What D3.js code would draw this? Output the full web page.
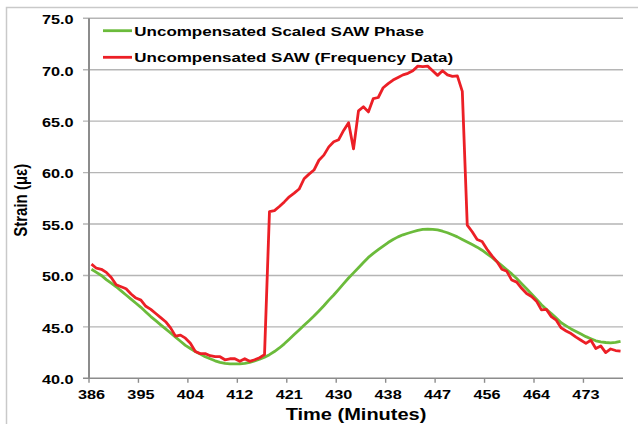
<!DOCTYPE html>
<html><head><meta charset="utf-8">
<script src="https://cdn.jsdelivr.net/npm/d3@7"></script>
<style>
html,body{margin:0;padding:0;background:#fff;}
svg{display:block;}
text{font-family:"Liberation Sans",Arial,sans-serif;font-weight:bold;fill:#000;}
</style></head><body>
<svg id="chart" width="638" height="424"></svg>
<script>
// ---- data ----
const timeLabels = ["386","395","404","412","421","430","438","447","456","464","473"];
const yTicks = [40,45,50,55,60,65,70,75];
const seriesNames = ["Uncompensated Scaled SAW Phase","Uncompensated SAW (Frequency Data)"];
const scaledPhase = [
50.6,50.3,50.0,49.6,49.25,48.9,48.5,48.1,47.7,47.3,
46.9,46.45,46.0,45.6,45.2,44.8,44.4,44.0,43.6,43.2,
42.9,42.6,42.35,42.1,41.9,41.7,41.55,41.45,41.4,41.4,
41.4,41.45,41.55,41.7,41.85,42.05,42.3,42.6,42.95,43.35,
43.8,44.25,44.7,45.15,45.6,46.05,46.55,47.05,47.6,48.1,
48.65,49.2,49.75,50.25,50.75,51.25,51.75,52.15,52.5,52.85,
53.2,53.5,53.75,53.95,54.1,54.25,54.38,54.47,54.5,54.48,
54.42,54.3,54.15,53.95,53.75,53.5,53.25,53.0,52.75,52.45,
52.1,51.75,51.35,50.95,50.55,50.15,49.7,49.2,48.7,48.2,
47.7,47.15,46.7,46.3,45.85,45.4,45.1,44.8,44.55,44.3,
44.05,43.85,43.65,43.55,43.48,43.45,43.5,43.6];
const sawFrequency = [
51.1,50.7,50.6,50.3,49.8,49.1,48.9,48.7,48.2,47.8,
47.6,47.0,46.7,46.3,45.9,45.5,44.9,44.1,44.2,43.9,
43.4,42.6,42.4,42.4,42.2,42.1,42.1,41.8,41.9,41.9,
41.65,41.9,41.65,41.8,42.0,42.3,56.2,56.3,56.7,57.15,
57.65,58.0,58.4,59.4,59.85,60.25,61.2,61.7,62.5,63.0,
63.2,64.1,64.85,62.3,66.0,66.4,65.9,67.2,67.3,68.25,
68.65,69.0,69.25,69.5,69.65,69.9,70.35,70.3,70.35,69.9,
69.45,69.9,69.5,69.35,69.4,67.9,54.9,54.25,53.5,53.3,
52.55,51.9,51.35,50.6,50.4,49.55,49.35,48.75,48.25,47.95,
47.5,46.65,46.7,46.0,45.65,44.9,44.6,44.35,44.0,43.7,
43.4,43.7,42.9,43.15,42.5,42.85,42.7,42.65];

// ---- layout ----
const SX = 1.25; // horizontal stretch of the reference text
const n = sawFrequency.length;
const plot = {left:89, right:623, top:18.3, bottom:378.3};
const x = d3.scaleLinear().domain([0, n]).range([plot.left, plot.right]);
const y = d3.scaleLinear().domain([40, 75]).range([plot.bottom, plot.top]);
const cx = i => x(i + 0.5);

const svg = d3.select("#chart");

// outer border (left and top visible)
svg.append("rect").attr("x",6.5).attr("y",7.5).attr("width",700).attr("height",500)
  .attr("fill","none").attr("stroke","#c9c9c9").attr("stroke-width",1.5);

// gridlines
svg.append("g").selectAll("line").data(yTicks.filter(v => v > 40)).join("line")
  .attr("x1", plot.left - 6).attr("x2", plot.right)
  .attr("y1", d => y(d)).attr("y2", d => y(d))
  .attr("stroke","#b5b5b5").attr("stroke-width",1.4);

// y tick labels
svg.append("g").selectAll("text").data(yTicks).join("text")
  .attr("text-anchor","end").attr("font-size",13)
  .attr("transform", d => `translate(73.5,${y(d) + 5.8}) scale(${SX},1)`)
  .text(d => d3.format(".1f")(d));

// x axis line + ticks
const tickIdx = timeLabels.map((_, k) => k * 10);
svg.append("line").attr("x1", plot.left - 6).attr("x2", plot.right)
  .attr("y1", plot.bottom).attr("y2", plot.bottom)
  .attr("stroke","#8c8c8c").attr("stroke-width",1.6);
svg.append("g").selectAll("line").data(tickIdx).join("line")
  .attr("x1", d => x(d)).attr("x2", d => x(d))
  .attr("y1", plot.bottom).attr("y2", plot.bottom + 4.5)
  .attr("stroke","#8c8c8c").attr("stroke-width",1.4);
svg.append("g").selectAll("text").data(timeLabels).join("text")
  .attr("text-anchor","middle").attr("font-size",13)
  .attr("transform", (d, k) => `translate(${cx(tickIdx[k])},399) scale(${SX},1)`)
  .text(d => d);

// y axis line
svg.append("line").attr("x1", plot.left).attr("x2", plot.left)
  .attr("y1", plot.top).attr("y2", plot.bottom)
  .attr("stroke","#8c8c8c").attr("stroke-width",2);

// axis titles
svg.append("text").attr("text-anchor","middle").attr("font-size",16)
  .attr("transform", `translate(${(plot.left + plot.right) / 2},420) scale(${SX},1)`)
  .text("Time (Minutes)");
svg.append("text").attr("text-anchor","middle").attr("font-size",15)
  .attr("transform", `translate(26.5,${(plot.top + plot.bottom) / 2 + 2}) scale(${SX},1) rotate(-90)`)
  .text("Strain (\u03bc\u03b5)");

// series lines
const colors = ["#6bbb3b", "#ec1f26"];
const line = d3.line().x((d, i) => cx(i)).y(d => y(d));
[scaledPhase, sawFrequency].forEach((s, k) => {
  svg.append("path").datum(s).attr("d", line)
    .attr("fill","none").attr("stroke", colors[k]).attr("stroke-width", 2.8)
    .attr("stroke-linejoin","round");
});

// legend
const legY = [30.7, 57.3];
seriesNames.forEach((name, k) => {
  svg.append("line").attr("x1",103).attr("x2",132)
    .attr("y1", legY[k]).attr("y2", legY[k])
    .attr("stroke", colors[k]).attr("stroke-width", 2.8);
  svg.append("text").attr("font-size",13.6)
    .attr("transform", `translate(134.3,${legY[k] + 4.8}) scale(${SX},1)`)
    .text(name);
});
</script>
</body></html>
